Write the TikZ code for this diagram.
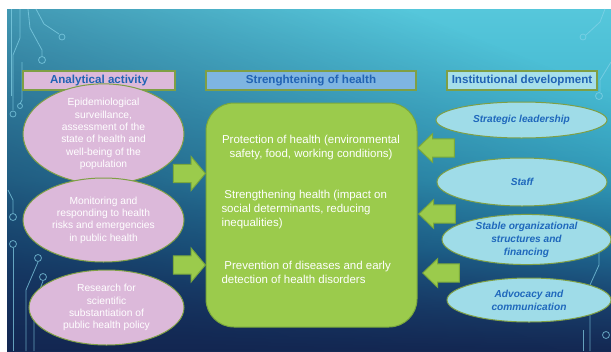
\documentclass[tikz,border=0pt]{standalone}
\usepackage{fontspec}
\setmainfont{Liberation Sans}
\usetikzlibrary{shapes.geometric,shapes.arrows,fadings}

\definecolor{bgtop}{HTML}{56C7DB}
\definecolor{bgmid}{HTML}{36ADC9}
\definecolor{bglow}{HTML}{2485AC}
\definecolor{bgdeep}{HTML}{1D527F}
\definecolor{bgbot}{HTML}{152A55}
\definecolor{bgshadow}{HTML}{122550}
\definecolor{circuit}{HTML}{86D3E8}
\definecolor{edgegreen}{HTML}{7F9F45}
\definecolor{pinkfill}{HTML}{DCB9DA}
\definecolor{headpink}{HTML}{DCB9DA}
\definecolor{headblue}{HTML}{7EB5E2}
\definecolor{headcyan}{HTML}{A6DFEB}
\definecolor{titleblue}{HTML}{2163B4}
\definecolor{cyanfill}{HTML}{9FDCE8}
\definecolor{ellblue}{HTML}{1F68BC}
\definecolor{boxgreen}{HTML}{9BCB4C}
\definecolor{boxedge}{HTML}{7AA83C}

\pgfdeclareverticalshading{bgshade}{100bp}{color(0bp)=(bgbot); color(25bp)=(bgbot); color(32bp)=(bgdeep); color(40bp)=(bglow); color(50bp)=(bgmid); color(75bp)=(bgtop); color(100bp)=(bgtop)}
\tikzfading[name=darkcorner, left color=transparent!100, right color=transparent!25, shading angle=-35]

\tikzset{every picture/.style={line width=0.75pt}}
\tikzset{
  headbox/.style={draw=edgegreen, line width=0.9pt, minimum height=14.25pt, inner sep=0pt, text=titleblue, font=\bfseries\fontsize{8.7}{10}\selectfont},
  pinkell/.style={ellipse, draw=edgegreen, fill=pinkfill, inner sep=0pt, text=white, align=center, font=\fontsize{7.7}{9.2}\selectfont},
  blueell/.style={ellipse, draw=edgegreen, fill=cyanfill, inner sep=0pt, text=ellblue, align=center, font=\bfseries\itshape\fontsize{7.6}{9.75}\selectfont},
  midtext/.style={inner sep=0pt, text=white, font=\fontsize{8.6}{10.5}\selectfont},
  inarrow/.style={single arrow, draw=boxedge, fill=boxgreen, inner xsep=0pt, inner ysep=6.4pt, minimum height=24pt, single arrow head extend=6pt, single arrow tip angle=100},
  outarrow/.style={single arrow, shape border rotate=180, draw=boxedge, fill=boxgreen, inner xsep=0pt, inner ysep=6.4pt, minimum height=27.5pt, single arrow head extend=4.1pt, single arrow tip angle=88},
  trace/.style={draw=circuit, line width=0.6pt, opacity=0.7}
}

\begin{document}
\begin{tikzpicture}[x=0.75pt,y=0.75pt,yscale=-1,xscale=1]
		\useasboundingbox (0,0) rectangle (611,351);
		\fill[white] (0,0) rectangle (611,351);
		
		%Background
		\shade[shading=bgshade] (7,9) rectangle (611,351);
		\fill[bgshadow, path fading=darkcorner] (7,9) rectangle (611,351);
		
		%Circuit traces left
		\draw[trace] (11,9) -- (11,96);
		\draw[trace] (20,9) -- (20,38) -- (13,55) -- (13,110);
		\draw[trace] (28,9) -- (30,28) -- (42,50) -- (42,56);
		\draw[trace] (42,60) circle (3.5);
		\draw[trace] (36,9) -- (44,24) -- (59,34);
		\draw[trace] (62,37) circle (3);
		\draw[trace] (22,62) -- (22,100) -- (20,104);
		\draw[trace] (20,106) circle (2.5);
		\draw[trace] (13,114) circle (3);
		\draw[trace] (8,190) -- (13,200) -- (13,213);
		\draw[trace] (13,217) circle (3.5);
		\draw[trace] (13,244) circle (3.5);
		\draw[trace] (13,248) -- (13,351);
		\draw[trace] (38,262) -- (26,290) -- (26,351);
		\draw[trace] (38,258) circle (3.5);
		\draw[trace] (43,281) -- (34,305) -- (34,351);
		\draw[trace] (43,277) circle (3.5);
		%Circuit traces right
		\draw[trace] (605,9) -- (600,22) -- (586,35);
		\draw[trace] (583,37) circle (3);
		\draw[trace] (611,62) -- (600,80) -- (600,92);
		\draw[trace] (599,96) circle (3.5);
		\draw[trace] (599,252) -- (599,265) -- (590,285) -- (590,351);
		\draw[trace] (599,248) circle (3.5);
		\draw[trace] (583,330) -- (583,351);
		\draw[trace] (606,335) circle (3.5);
		
		%Headers
		\node[headbox, fill=headpink, minimum width=114pt] (hAnalytic) at (99,80.5) {Analytical activity};
		\node[headbox, fill=headblue, minimum width=157.5pt] (hHealth) at (311,80.5) {Strenghtening of health};
		\node[headbox, fill=headcyan, minimum width=112.5pt] (hInstitut) at (522,80.5) {Institutional development};
		
		%Shape: central box
		\node[draw=boxedge, fill=boxgreen, rounded corners=21pt, minimum width=158.25pt, minimum height=168pt] (core) at (311.5,215) {};
		
		\node[midtext, align=center] (protect) at (311,148) {Protection of health (environmental\\safety, food, working conditions)};
		\node[midtext, align=left, anchor=west] (strength) at (221,210) {\hspace*{2.2pt}Strengthening health (impact on\\social determinants, reducing\\inequalities)};
		\node[midtext, align=left, anchor=west] (prevent) at (221,272) {\hspace*{2.2pt}Prevention of diseases and early\\detection of health disorders};
		
		%Left ellipses
		\node[pinkell, minimum width=120.75pt, minimum height=58.5pt] (epid) at (103.5,134) {Epidemiological\\surveillance,\\assessment of the\\state of health and\\well-being of the\\population};
		\node[pinkell, minimum width=120.75pt, minimum height=63pt] (monit) at (103.5,220) {Monitoring and\\responding to health\\risks and emergencies\\in public health};
		\node[pinkell, minimum width=116.25pt, minimum height=56.25pt] (research) at (106.5,307.5) {Research for\\scientific\\substantiation of\\public health policy};
		
		%Right ellipses
		\node[blueell, minimum width=128.25pt, minimum height=27pt] (lead) at (521.5,120) {Strategic leadership};
		\node[blueell, minimum width=127.5pt, minimum height=36pt] (staff) at (522,182) {Staff};
		\node[blueell, minimum width=126.75pt, minimum height=33.75pt] (struct) at (526.5,239.5) {Stable organizational\\structures and\\financing};
		\node[blueell, minimum width=123pt, minimum height=33pt] (advoc) at (529,300) {Advocacy and\\communication};
		
		%Arrows into the box
		\node[inarrow, anchor=tip] (inA) at (206,173.5) {};
		\node[inarrow, anchor=tip] (inB) at (206,265) {};
		\node[outarrow, anchor=tip] (outA) at (417,148) {};
		\node[outarrow, anchor=tip] (outB) at (418,214) {};
		\node[outarrow, anchor=tip] (outC) at (422,273) {};
		
	\end{tikzpicture}
\end{document}
